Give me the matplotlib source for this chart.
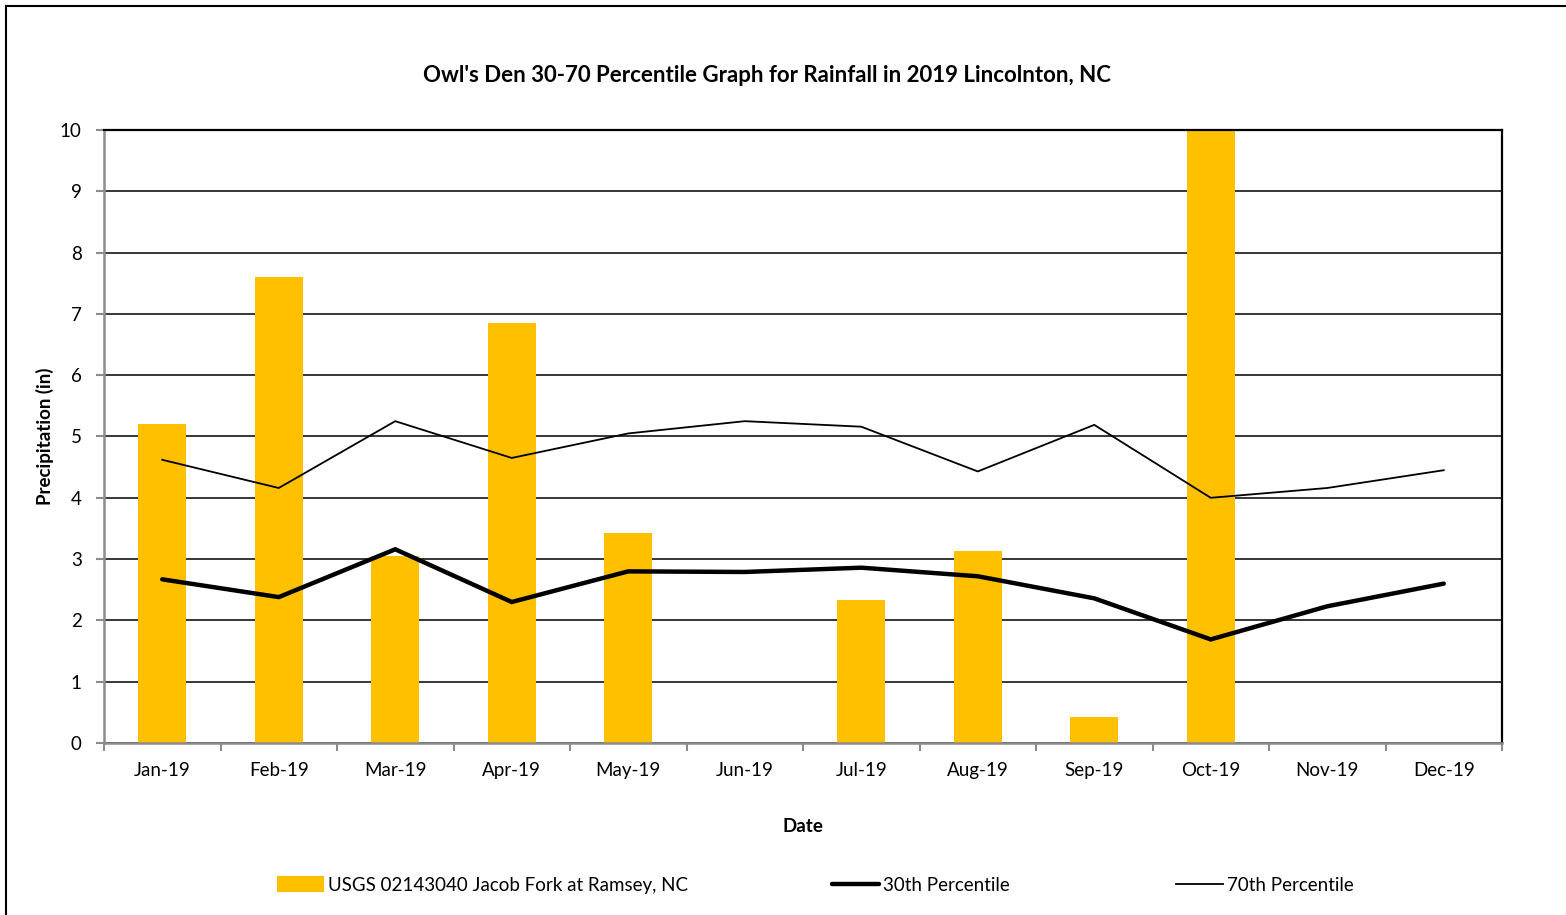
import matplotlib
matplotlib.use("Agg")
import matplotlib.pyplot as plt
import numpy as np
from matplotlib.lines import Line2D

months = ["Jan-19", "Feb-19", "Mar-19", "Apr-19", "May-19", "Jun-19",
          "Jul-19", "Aug-19", "Sep-19", "Oct-19", "Nov-19", "Dec-19"]
rainfall = [5.20, 7.60, 3.05, 6.85, 3.42, 0.0, 2.34, 3.14, 0.43, 10.0, 0.0, 0.0]
p30 = [2.67, 2.38, 3.16, 2.30, 2.80, 2.79, 2.86, 2.72, 2.36, 1.69, 2.23, 2.60]
p70 = [4.62, 4.16, 5.25, 4.65, 5.05, 5.25, 5.16, 4.43, 5.19, 4.00, 4.16, 4.45]
yticks = [0, 1, 2, 3, 4, 5, 6, 7, 8, 9, 10]

plt.rcParams['font.family'] = ['Lato', 'DejaVu Sans']

fig = plt.figure(figsize=(15.66, 9.15), dpi=100)
ax = fig.add_axes([104/1566, 1-743/915, (1502-104)/1566, (743-130)/915])

x = np.arange(len(months))
hb = ax.bar(x, rainfall, width=0.41, color='#FFC000', zorder=2,
            label='USGS 02143040 Jacob Fork at Ramsey, NC')
h30, = ax.plot(x, p30, color='black', lw=3.2, zorder=3, label='30th Percentile',
               solid_capstyle='round', solid_joinstyle='miter')
h70, = ax.plot(x, p70, color='black', lw=1.3, zorder=3, label='70th Percentile')

ax.set_xlim(-0.5, len(months) - 0.5)
ax.set_ylim(0, 10)
ax.set_yticks(yticks)
ax.set_yticklabels([str(v) for v in yticks], fontsize=13.5)
ax.set_xticks(x)
ax.set_xticklabels(months, fontsize=13.5)
ax.set_xticks(np.arange(-0.5, len(months)), minor=True)
ax.tick_params(axis='x', which='major', length=0, pad=14)
ax.tick_params(axis='x', which='minor', length=6, color='#8c8c8c', width=1.5)
ax.tick_params(axis='y', length=6, color='#8c8c8c', width=1.5, pad=10)

ax.yaxis.grid(True, color='black', lw=1.1, zorder=1)
ax.set_axisbelow(True)

for s in ['left', 'bottom']:
    ax.spines[s].set_color('#8c8c8c')
    ax.spines[s].set_linewidth(1.8)
for s in ['top', 'right']:
    ax.spines[s].set_color('black')
    ax.spines[s].set_linewidth(1.6)
ax.spines['bottom'].set_zorder(4)

ax.set_ylabel('Precipitation (in)', fontsize=13.5, fontweight='bold')
ax.set_xlabel('Date', fontsize=13.5, fontweight='bold', labelpad=28)
ax.yaxis.set_label_coords(-50/1398, 0.5)

fig.text(767/1566, 1-76/915, "Owl's Den 30-70 Percentile Graph for Rainfall in 2019 Lincolnton, NC",
         ha='center', va='center', fontsize=16, fontweight='bold')

leg_y = 1 - 885/915
for handle, label, xstart in [(hb, hb.get_label(), 277), (h30, h30.get_label(), 832),
                              (h70, h70.get_label(), 1176)]:
    lg = fig.legend([handle], [label], loc='center left',
                    bbox_to_anchor=(xstart/1566, leg_y), frameon=False, fontsize=13.5,
                    handlelength=2.5, handletextpad=0.2, handleheight=0.9,
                    borderpad=0, borderaxespad=0)

# outer chart border (left and top edges visible)
fig.add_artist(Line2D([6/1566, 6/1566], [0, 1-6/915], transform=fig.transFigure, color='black', lw=1.5))
fig.add_artist(Line2D([6/1566, 1], [1-6/915, 1-6/915], transform=fig.transFigure, color='black', lw=1.5))

fig.savefig('out.png', dpi=100)
